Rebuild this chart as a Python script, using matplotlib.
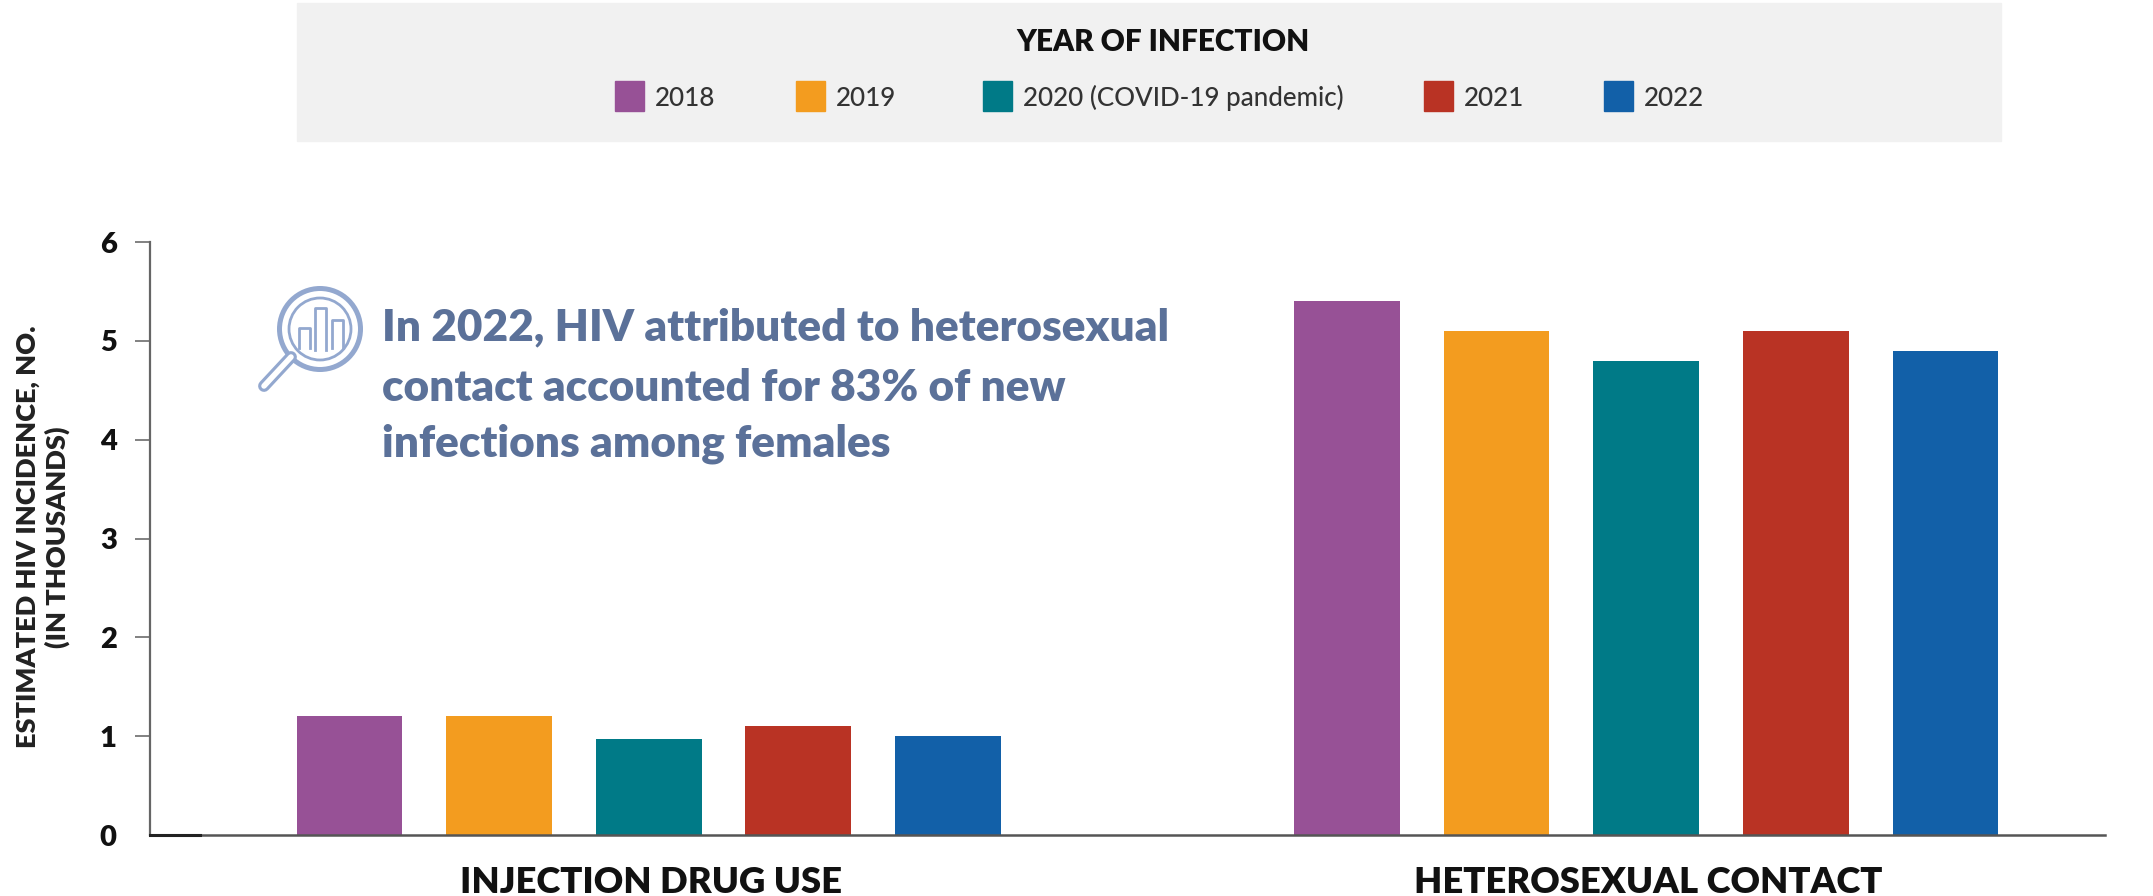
import numpy as np
import matplotlib
matplotlib.use('Agg')
import matplotlib.pyplot as plt
from matplotlib.patches import Rectangle, Circle

plt.rcParams['font.family'] = ['Lato', 'DejaVu Sans']

years = ['2018', '2019', '2020 (COVID-19 pandemic)', '2021', '2022']
colors = ['#975196', '#F39C1F', '#007A87', '#B93324', '#1260A8']
groups = ['INJECTION DRUG USE', 'HETEROSEXUAL CONTACT']
injection = [1.2, 1.2, 0.97, 1.1, 1.0]
heterosexual = [5.4, 5.1, 4.8, 5.1, 4.9]
note = 'In 2022, HIV attributed to heterosexual\ncontact accounted for 83% of new\ninfections among females'
legend_x = [615, 796, 983, 1424, 1604]

W, H = 2153, 896
fig = plt.figure(figsize=(W / 100, H / 100), dpi=100)

# main chart, placed in pixels
ax = fig.add_axes([150 / W, 1 - 835 / H, (2105 - 150) / W, (835 - 242) / H])
step = 0.15
width = 0.106
for i, (year, col) in enumerate(zip(years, colors)):
    off = (i - 2) * step
    ax.bar([0 + off, 1 + off], [injection[i], heterosexual[i]], width=width, color=col, label=year)

ax.set_xlim(-0.5, 1.46)
ax.set_ylim(0, 6)
ax.set_yticks(range(7))
ax.set_xticks([0.002, 1.002])
ax.set_xticklabels(groups, fontsize=26.2, fontweight='heavy', color='#111111')
ax.tick_params(axis='x', length=0, pad=22)
ax.tick_params(axis='y', length=11, width=1.3, color='#777777', pad=13, labelsize=21, labelcolor='#111111')
ax.yaxis.get_major_ticks()[0].tick1line.set_visible(False)
for lab in ax.get_yticklabels():
    lab.set_fontweight('heavy')
for s in ['top', 'right']:
    ax.spines[s].set_visible(False)
ax.spines['left'].set_color('#666666')
ax.spines['left'].set_linewidth(1.6)
ax.spines['bottom'].set_color('#555555')
ax.spines['bottom'].set_linewidth(1.8)

# overlay in pixel coordinates for legend box, note and icon
ov = fig.add_axes([0, 0, 1, 1])
ov.set_xlim(0, W)
ov.set_ylim(H, 0)
ov.axis('off')
ov.patch.set_alpha(0)

ov.add_patch(Rectangle((297, 3), 1704, 138, color='#F1F1F1', zorder=0))
ov.text(1163, 42, 'YEAR OF INFECTION', fontsize=21.4, fontweight='heavy', color='#111111', ha='center', va='center')
for x, year, col in zip(legend_x, years, colors):
    ov.add_patch(Rectangle((x, 81), 29, 30, color=col))
    ov.text(x + 40, 98, year, fontsize=18.7, fontweight='medium', color='#333333', ha='left', va='center')

ov.text(382, 327, note.split('\n')[0], fontsize=31.8, fontweight='heavy', color='#5B7199', va='center')
ov.text(382, 388, note.split('\n')[1], fontsize=31.8, fontweight='heavy', color='#5B7199', va='center')
ov.text(382, 444, note.split('\n')[2], fontsize=31.8, fontweight='heavy', color='#5B7199', va='center')

# magnifier icon
icon = '#93A8CF'
ov.plot([291, 264], [357, 386], color=icon, lw=8.5, solid_capstyle='round')
ov.plot([291, 264], [357, 386], color='white', lw=4, solid_capstyle='round')
ov.add_patch(Circle((320, 329), 40.5, fc='white', ec=icon, lw=3.6))
ov.add_patch(Circle((320, 329), 31, fc='white', ec=icon, lw=2))
for x0, x1, top, bot in [(299, 310, 328, 348), (315, 326, 308, 350), (332, 343, 320, 348)]:
    ov.plot([x0, x0, x1, x1], [bot, top, top, bot], color=icon, lw=2)
ov.plot([150, 200], [835, 835], color='#222222', lw=2.2)

ax.set_ylabel('ESTIMATED HIV INCIDENCE, NO.\n(IN THOUSANDS)', fontsize=19.5, fontweight='heavy', color='#222222', linespacing=1.25, va='center')
ax.yaxis.set_label_coords((43 - 150) / (2105 - 150), (835 - 537) / (835 - 242))

fig.savefig('out.png', dpi=100)
